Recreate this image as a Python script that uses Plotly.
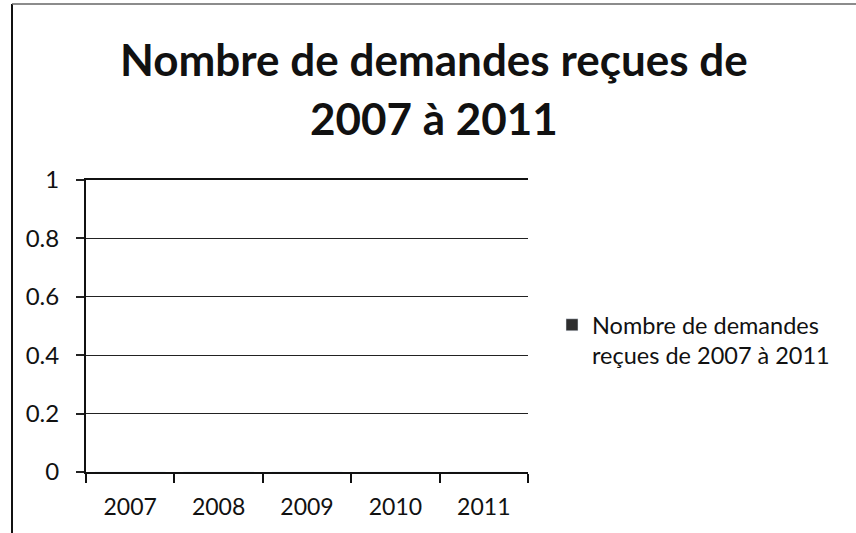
import plotly.graph_objects as go

years = ["2007", "2008", "2009", "2010", "2011"]
values = [0, 0, 0, 0, 0]
series_name = "Nombre de demandes<br>reçues de 2007 à 2011"
title_lines = ["Nombre de demandes reçues de", "2007 à 2011"]

FONT = "Lato"
INK = "#111111"

fig = go.Figure()
fig.add_trace(go.Bar(x=years, y=values, name=series_name,
                     marker=dict(color="#2e2e2e"), showlegend=True))

W, H = 856, 533
L, R, T, B = 86, 328, 180, 61
pw, ph = W - L - R, H - T - B


def px(x):
    return (x - L) / pw


def py(y):
    return (H - B - y) / ph


annotations = [
    dict(text="<b>%s</b>" % title_lines[0], xref="paper", yref="paper",
         x=px(434), y=py(59), xanchor="center", yanchor="middle", showarrow=False,
         font=dict(family=FONT, size=44, color=INK)),
    dict(text="<b>%s</b>" % title_lines[1], xref="paper", yref="paper",
         x=px(434), y=py(118), xanchor="center", yanchor="middle", showarrow=False,
         font=dict(family=FONT, size=44, color=INK)),
]

fig.update_layout(
    width=W, height=H,
    margin=dict(l=L, r=R, t=T, b=B, autoexpand=False),
    paper_bgcolor="white", plot_bgcolor="white",
    font=dict(family=FONT, color=INK),
    showlegend=True,
    legend=dict(x=px(552), y=py(303), xanchor="left", yanchor="top",
                font=dict(family=FONT, size=23.5, color=INK),
                itemwidth=30, valign="top", bgcolor="rgba(0,0,0,0)"),
    xaxis=dict(type="category", showline=True, linecolor=INK, linewidth=1.5,
               mirror=True,
               ticks="outside", tickson="boundaries", ticklen=9, tickwidth=1.5,
               tickcolor=INK, showgrid=False,
               tickfont=dict(family=FONT, size=23, color=INK),
               ticklabelstandoff=14),
    yaxis=dict(range=[0, 1], dtick=0.2, showline=True, linecolor=INK, linewidth=2,
               ticks="outside", ticklen=8, tickwidth=1.5, tickcolor="#222222",
               showgrid=True, gridcolor="#222222", gridwidth=1.4, zeroline=False,
               tickfont=dict(family=FONT, size=24, color=INK),
               ticklabelstandoff=12),
    annotations=annotations,
    shapes=[
        dict(type="line", xref="paper", yref="paper", x0=px(12), x1=px(12), y0=py(4), y1=py(540),
             line=dict(color=INK, width=2)),
        dict(type="line", xref="paper", yref="paper", x0=px(12), x1=px(860), y0=py(4), y1=py(4),
             line=dict(color="#666666", width=1.5)),
    ],
)

fig.write_html("out.html", config={"displayModeBar": False},
               post_script="document.body.style.margin='0px';")
